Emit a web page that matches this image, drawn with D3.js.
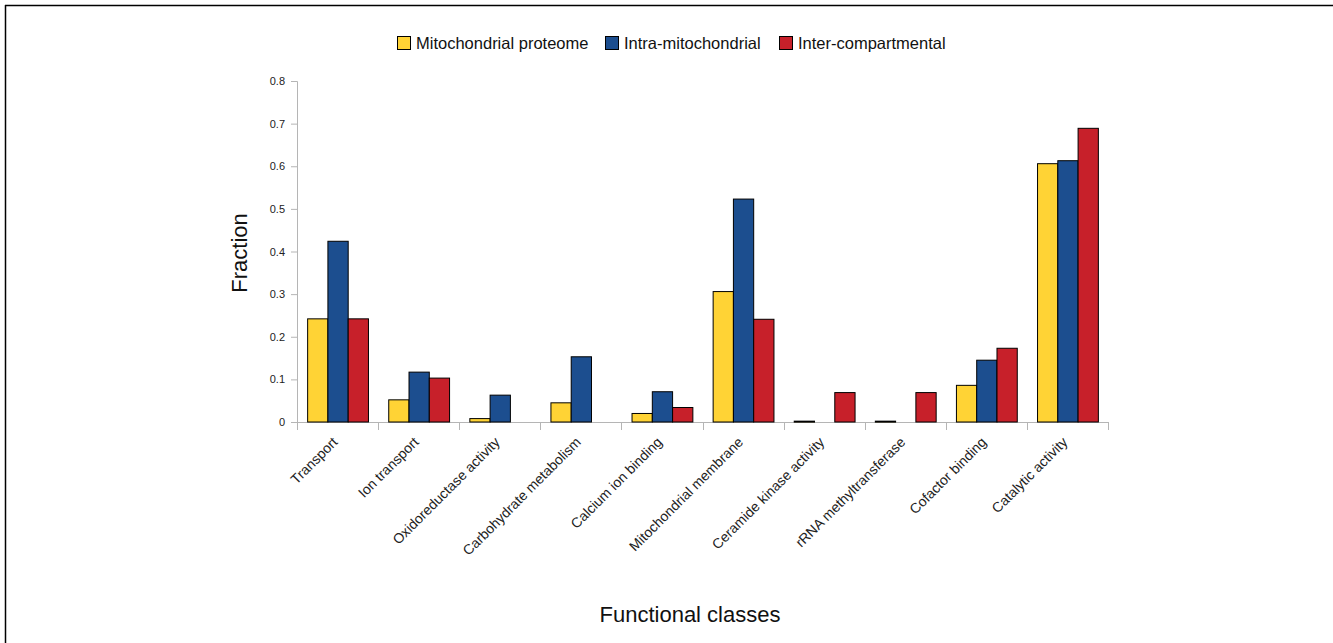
<!DOCTYPE html>
<html>
<head>
<meta charset="utf-8">
<script src="https://cdn.jsdelivr.net/npm/d3@7"></script>
<style>
  body { margin: 0; background: #fff; }
  svg { display: block; font-family: "Liberation Sans", Arial, sans-serif; }
</style>
</head>
<body>
<svg id="chart"></svg>
<script>
let width = 1333;
let height = 643;

// data
const categories = [
  "Transport",
  "Ion transport",
  "Oxidoreductase activity",
  "Carbohydrate metabolism",
  "Calcium ion binding",
  "Mitochondrial membrane",
  "Ceramide kinase activity",
  "rRNA methyltransferase",
  "Cofactor binding",
  "Catalytic activity",
];
const seriesNames = ["Mitochondrial proteome", "Intra-mitochondrial", "Inter-compartmental"];
const proteome = [0.242, 0.052, 0.008, 0.045, 0.020, 0.306, 0.002, 0.002, 0.086, 0.606];
const intra = [0.424, 0.117, 0.063, 0.153, 0.071, 0.523, 0, 0, 0.145, 0.613];
const inter = [0.242, 0.103, 0, 0, 0.034, 0.241, 0.069, 0.069, 0.173, 0.689];
const yTicks = [0, 0.1, 0.2, 0.3, 0.4, 0.5, 0.6, 0.7, 0.8];

const colors = ["#FFD335", "#1C4E8F", "#C7202A"];

let plot = { left: 297, right: 1108, top: 81, bottom: 422 };

let svg = d3.select("svg#chart").attr("width", width).attr("height", height);

// frame lines, left and top
svg.append("line").attr("x1", 5.5).attr("x2", 5.5).attr("y1", 5).attr("y2", height)
  .attr("stroke", "#000").attr("stroke-width", 1.5);
svg.append("line").attr("x1", 5).attr("x2", width).attr("y1", 5.5).attr("y2", 5.5)
  .attr("stroke", "#000").attr("stroke-width", 1.5);

let xScale = d3.scaleBand().domain(categories).range([plot.left, plot.right]).paddingInner(0).paddingOuter(0);
let inner = d3.scaleBand().domain(seriesNames).range([0, xScale.bandwidth()]).paddingOuter(0.5);
let yScale = d3.scaleLinear().domain([0, 0.8]).range([plot.bottom, plot.top]);

let rows = categories.map((c, i) => ({
  cat: c,
  values: [proteome[i], intra[i], inter[i]],
}));

// y axis
svg.append("g")
  .attr("transform", `translate(${plot.left}, 0)`)
  .call(d3.axisLeft(yScale).tickValues(yTicks).tickSize(6).tickPadding(6).tickFormat((d) => d === 0 ? "0" : d3.format(".1f")(d)))
  .call((g) => g.select(".domain").attr("d", `M-6,${plot.top}.5H0.5V${plot.bottom + 8}`))
  .call((g) => g.selectAll("path, line").attr("stroke", "#b5b5b5"))
  .call((g) => g.selectAll("text").attr("fill", "#222").style("font-size", "11px").style("font-family", "Liberation Sans, Arial, sans-serif"));

// x axis baseline and boundary ticks
let bounds = categories.map((c) => xScale(c)).concat([plot.right]);
svg.append("line").attr("x1", plot.left).attr("x2", plot.right).attr("y1", plot.bottom + 0.5).attr("y2", plot.bottom + 0.5)
  .attr("stroke", "#b5b5b5");
svg.append("g").selectAll("line").data(bounds).join("line")
  .attr("x1", (d) => Math.round(d) + 0.5).attr("x2", (d) => Math.round(d) + 0.5)
  .attr("y1", plot.bottom).attr("y2", plot.bottom + 8)
  .attr("stroke", "#b5b5b5");

// bars
let groups = svg.append("g").selectAll("g").data(rows).join("g")
  .attr("transform", (d) => `translate(${xScale(d.cat)}, 0)`);

groups.selectAll("rect")
  .data((d) => d.values.map((v, i) => ({ v: v, s: seriesNames[i], i: i })))
  .join("rect")
  .filter((d) => d.v > 0)
  .attr("x", (d) => inner(d.s) + 0.5)
  .attr("y", (d) => yScale(d.v))
  .attr("width", inner.bandwidth())
  .attr("height", (d) => Math.max(1, yScale(0) - yScale(d.v)))
  .attr("fill", (d) => colors[d.i])
  .attr("stroke", "#000")
  .attr("stroke-width", 1);

// category labels
svg.append("g").selectAll("text").data(categories).join("text")
  .attr("transform", (d) => `translate(${xScale(d) + xScale.bandwidth() / 2 + 1}, ${plot.bottom + 21}) rotate(-45)`)
  .attr("text-anchor", "end")
  .attr("fill", "#222")
  .style("font-size", "14px")
  .text((d) => d);

// axis titles
svg.append("text")
  .attr("transform", `translate(247, 253) rotate(-90)`)
  .attr("text-anchor", "middle")
  .style("font-size", "22px")
  .attr("fill", "#111")
  .text("Fraction");

svg.append("text")
  .attr("x", 690).attr("y", 622)
  .attr("text-anchor", "middle")
  .style("font-size", "22px")
  .attr("fill", "#111")
  .text("Functional classes");

// legend
let legendX = [397, 605, 779];
let legend = svg.append("g").selectAll("g").data(seriesNames).join("g")
  .attr("transform", (d, i) => `translate(${legendX[i]}, 36)`);
legend.append("rect").attr("x", 0.5).attr("y", 0.5).attr("width", 13).attr("height", 13)
  .attr("fill", (d, i) => colors[i]).attr("stroke", "#000").attr("stroke-width", 1);
legend.append("text").attr("x", 19).attr("y", 13)
  .style("font-size", "16.5px").attr("fill", "#111")
  .text((d) => d);
</script>
</body>
</html>
